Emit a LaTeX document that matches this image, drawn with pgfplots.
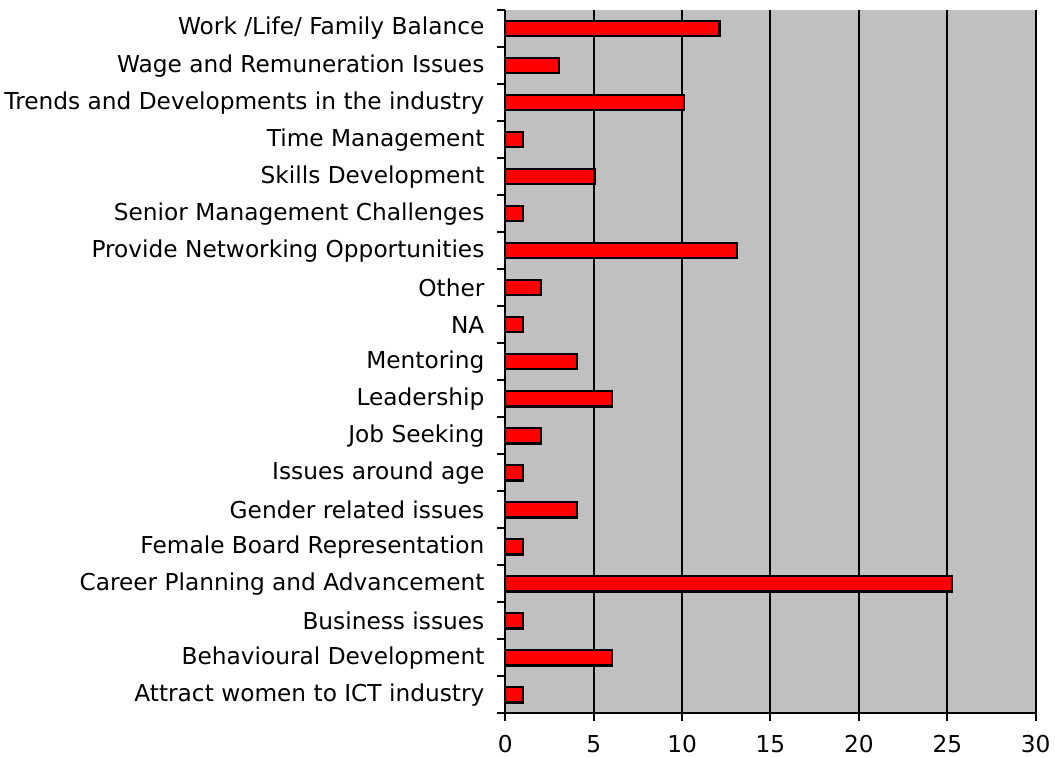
\documentclass[border=0pt]{standalone}
\usepackage{pgfplots}
\pgfplotsset{compat=1.18}
\usepackage{fontspec}
\setmainfont{DejaVu Sans}
\definecolor{plotbg}{RGB}{192,192,192}
\begin{document}
\begin{tikzpicture}
\begin{axis}[
  width=394.5pt, height=523pt, scale only axis,
  xbar, bar width=11.5pt,
  xmin=0, xmax=30, ymin=-0.5, ymax=18.5,
  axis x line=bottom, axis y line=left,
  axis line style={-, line width=1.5pt},
  axis background/.style={fill=plotbg},
  xtick={0,5,...,30},
  xmajorgrids, grid style={black, line width=1.5pt},
  ytick={0,...,18},
  yticklabels={Attract women to ICT industry, Behavioural Development, Business issues, Career Planning and Advancement, Female Board Representation, Gender related issues, Issues around age, Job Seeking, Leadership, Mentoring, NA, Other, Provide Networking Opportunities, Senior Management Challenges, Skills Development, Time Management, Trends and Developments in the industry, Wage and Remuneration Issues, Work /Life/ Family Balance},
  minor ytick={-0.5,0.5,...,18.5},
  tick align=outside,
  major tick length=6pt, minor tick length=6pt,
  ytick style={draw=none},
  minor y tick style={draw=black, line width=1.5pt},
  xtick style={black, line width=1.5pt},
  tick label style={font=\fontsize{17.3}{20}\selectfont},
  /pgf/number format/assume math mode=true,
  xticklabel style={yshift=-7pt},
  yticklabel style={xshift=-6pt},
]
\addplot[fill=red, draw=black, line width=1.6pt] coordinates {
  (1.01,0) (6.06,1) (1.01,2) (25.25,3) (1.01,4) (4.04,5) (1.01,6) (2.02,7) (6.06,8) (4.04,9)
  (1.01,10) (2.02,11) (13.13,12) (1.01,13) (5.05,14) (1.01,15) (10.10,16) (3.03,17) (12.12,18)
};
\end{axis}
\path ([yshift=7.5pt]current axis.north) circle (0pt);
\end{tikzpicture}
\end{document}
